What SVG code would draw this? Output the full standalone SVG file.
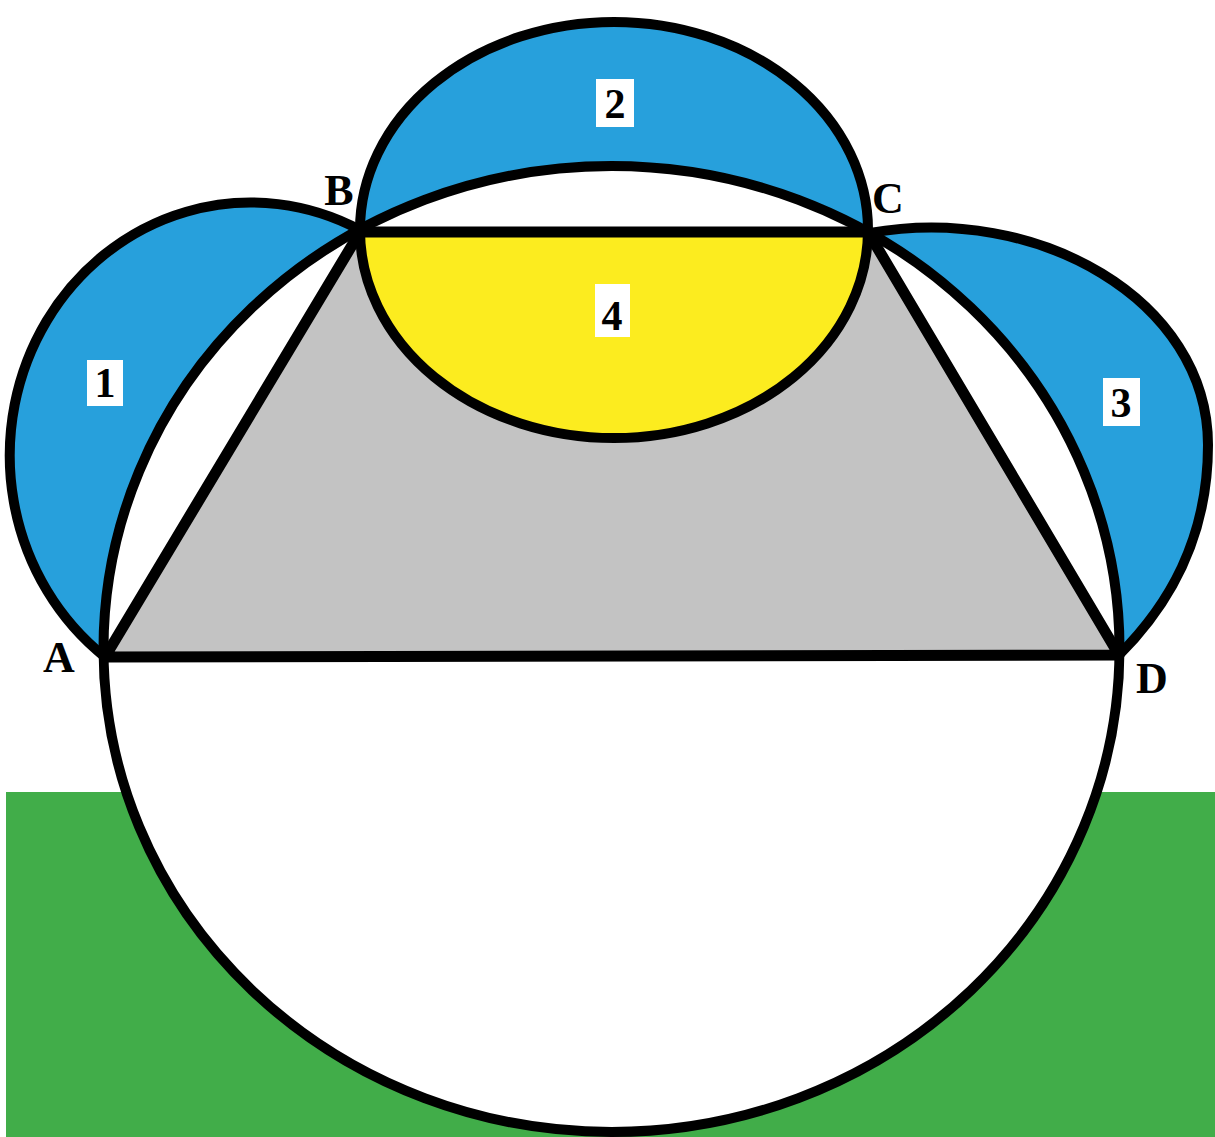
<svg xmlns="http://www.w3.org/2000/svg" width="1215" height="1137" viewBox="0 0 1215 1137">
<style>
.ln{fill:none;stroke:#000;stroke-width:10;stroke-linejoin:round;stroke-linecap:round}
.blue{fill:#27a0dc}
.num{font-family:"Liberation Serif",serif;font-weight:bold;font-size:42px;text-anchor:middle;fill:#000}
.pt{font-family:"Liberation Serif",serif;font-weight:bold;font-size:44px;text-anchor:middle;fill:#000}
.box{fill:#fff}
</style>
<rect x="0" y="0" width="1215" height="1137" fill="#fff"/>
<rect id="ground" x="6" y="792" width="1209" height="345" fill="#41ad49"/>
<g id="lune1">
<path class="blue" d="M105 657 A241 253 0 0 1 360 230 Z"/>
</g>
<g id="lune3">
<path class="blue" d="M870 233 C1037 203 1208 300 1208 445 C1208 540 1168 606 1119 655 Z"/>
</g>
<g id="circle2">
<ellipse class="blue" cx="614" cy="230" rx="254" ry="208"/>
</g>
<g id="bigCircle">
<ellipse cx="611.5" cy="649" rx="508" ry="483" fill="#fff"/>
</g>
<g id="trapezoid">
<polygon points="105,657 360,232 868,232 1119,655" fill="#c3c3c3"/>
</g>
<g id="half4">
<path d="M360 232 A254 208 0 0 0 868 232 Z" fill="#fcec1f"/>
</g>
<g id="connectors">
<path class="ln" d="M105 657 A241 253 0 0 1 360 230"/>
<path class="ln" d="M870 233 C1037 203 1208 300 1208 445 C1208 540 1168 606 1119 655"/>
<ellipse class="ln" cx="614" cy="230" rx="254" ry="208"/>
<ellipse class="ln" cx="611.5" cy="649" rx="508" ry="483"/>
<polygon class="ln" points="105,657 360,232 868,232 1119,655" style="stroke-width:11"/>
</g>
<g id="labels">
<rect class="box" x="87" y="360" width="36" height="46"/>
<text class="num" x="105" y="397">1</text>
<rect class="box" x="596" y="79" width="38" height="48"/>
<text class="num" x="615" y="118">2</text>
<rect class="box" x="1103" y="378" width="37" height="48"/>
<text class="num" x="1121" y="417">3</text>
<rect class="box" x="595" y="284" width="35" height="53"/>
<text class="num" x="612" y="330">4</text>
</g>
<g id="points">
<text class="pt" x="59" y="672">A</text>
<text class="pt" x="339" y="205">B</text>
<text class="pt" x="888" y="213">C</text>
<text class="pt" x="1152" y="693">D</text>
</g>
</svg>
